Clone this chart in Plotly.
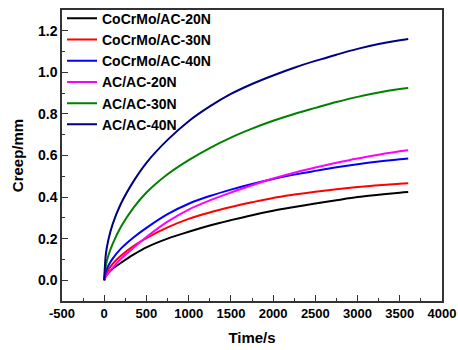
import plotly.graph_objects as go

time_s = [0, 20, 50, 100, 200, 350, 500, 750, 1000, 1250, 1500, 1750, 2000,
          2250, 2500, 2750, 3000, 3250, 3500, 3600]

series_names = ["CoCrMo/AC-20N", "CoCrMo/AC-30N", "CoCrMo/AC-40N",
                "AC/AC-20N", "AC/AC-30N", "AC/AC-40N"]

cocrmo_20n = [0, 0.020, 0.035, 0.055, 0.084, 0.124, 0.158, 0.200, 0.233, 0.263, 0.289, 0.313, 0.334,
              0.352, 0.369, 0.385, 0.400, 0.411, 0.421, 0.424]
cocrmo_30n = [0, 0.030, 0.052, 0.079, 0.119, 0.166, 0.203, 0.254, 0.295, 0.326, 0.352, 0.375, 0.396,
              0.412, 0.426, 0.438, 0.448, 0.457, 0.464, 0.466]
cocrmo_40n = [0, 0.043, 0.071, 0.104, 0.153, 0.207, 0.252, 0.318, 0.368, 0.405, 0.436, 0.463, 0.487,
              0.508, 0.526, 0.543, 0.558, 0.571, 0.582, 0.586]
acac_20n = [0, 0.018, 0.035, 0.060, 0.104, 0.157, 0.208, 0.282, 0.340, 0.384, 0.422, 0.457, 0.489,
            0.517, 0.542, 0.565, 0.586, 0.604, 0.620, 0.625]
acac_30n = [0, 0.072, 0.120, 0.175, 0.258, 0.350, 0.422, 0.510, 0.578, 0.636, 0.686, 0.729, 0.767,
            0.800, 0.829, 0.857, 0.882, 0.903, 0.920, 0.925]
acac_40n = [0, 0.128, 0.196, 0.270, 0.370, 0.478, 0.565, 0.675, 0.765, 0.836, 0.896, 0.944, 0.985,
            1.022, 1.055, 1.085, 1.113, 1.136, 1.155, 1.161]

series_values = [cocrmo_20n, cocrmo_30n, cocrmo_40n, acac_20n, acac_30n, acac_40n]
colors = ["#000000", "#ff0000", "#0000ff", "#ff00ff", "#008000", "#000080"]

x_tickvals = [-500, 0, 500, 1000, 1500, 2000, 2500, 3000, 3500, 4000]
x_ticklabels = ["-500", "0", "500", "1000", "1500", "2000", "2500", "3000", "3500", "4000"]
y_tickvals = [0.0, 0.2, 0.4, 0.6, 0.8, 1.0, 1.2]
y_ticklabels = ["0.0", "0.2", "0.4", "0.6", "0.8", "1.0", "1.2"]

fig = go.Figure()
for name, vals, col in zip(series_names, series_values, colors):
    fig.add_trace(go.Scatter(x=time_s, y=vals, mode="lines", name="<b>" + name + "</b>",
                             line=dict(color=col, width=2, shape="spline", smoothing=1.0)))

font_family = "Liberation Sans, Arial, sans-serif"
axis_common = dict(
    showline=True, linecolor="#333333", linewidth=1.5, mirror=True,
    ticks="inside", ticklen=6, tickwidth=1.2, tickcolor="#333333",
    showgrid=False, zeroline=False, automargin=False,
)

fig.update_xaxes(range=[-500, 4000], tickvals=x_tickvals,
                 ticktext=["<b>" + t + "</b>" for t in x_ticklabels],
                 tickfont=dict(family=font_family, size=13, color="#000000"),
                 minor=dict(dtick=250, tick0=0, ticks="inside", ticklen=3, tickcolor="#333333"),
                 title=dict(text="<b>Time/s</b>", font=dict(family=font_family, size=15, color="#000"), standoff=12),
                 **axis_common)
fig.update_yaxes(range=[-0.1, 1.3], tickvals=y_tickvals,
                 ticktext=["<b>" + t + "</b>" for t in y_ticklabels],
                 tickfont=dict(family=font_family, size=14, color="#000000"),
                 minor=dict(dtick=0.1, tick0=0, ticks="inside", ticklen=3, tickcolor="#333333"),
                 title=dict(text="<b>Creep/mm</b>", font=dict(family=font_family, size=15, color="#000"), standoff=11),
                 **axis_common)

fig.update_layout(
    width=458, height=350,
    margin=dict(l=62, r=16, t=10, b=49, autoexpand=False),
    paper_bgcolor="white", plot_bgcolor="white",
    font=dict(family=font_family, color="#000"),
    legend=dict(x=0.0, y=1.025, xanchor="left", yanchor="top",
                bgcolor="rgba(0,0,0,0)", borderwidth=0,
                font=dict(family=font_family, size=14, color="#000"),
                tracegroupgap=0, itemwidth=30),
    showlegend=True,
)

fig.write_html("out.html")
